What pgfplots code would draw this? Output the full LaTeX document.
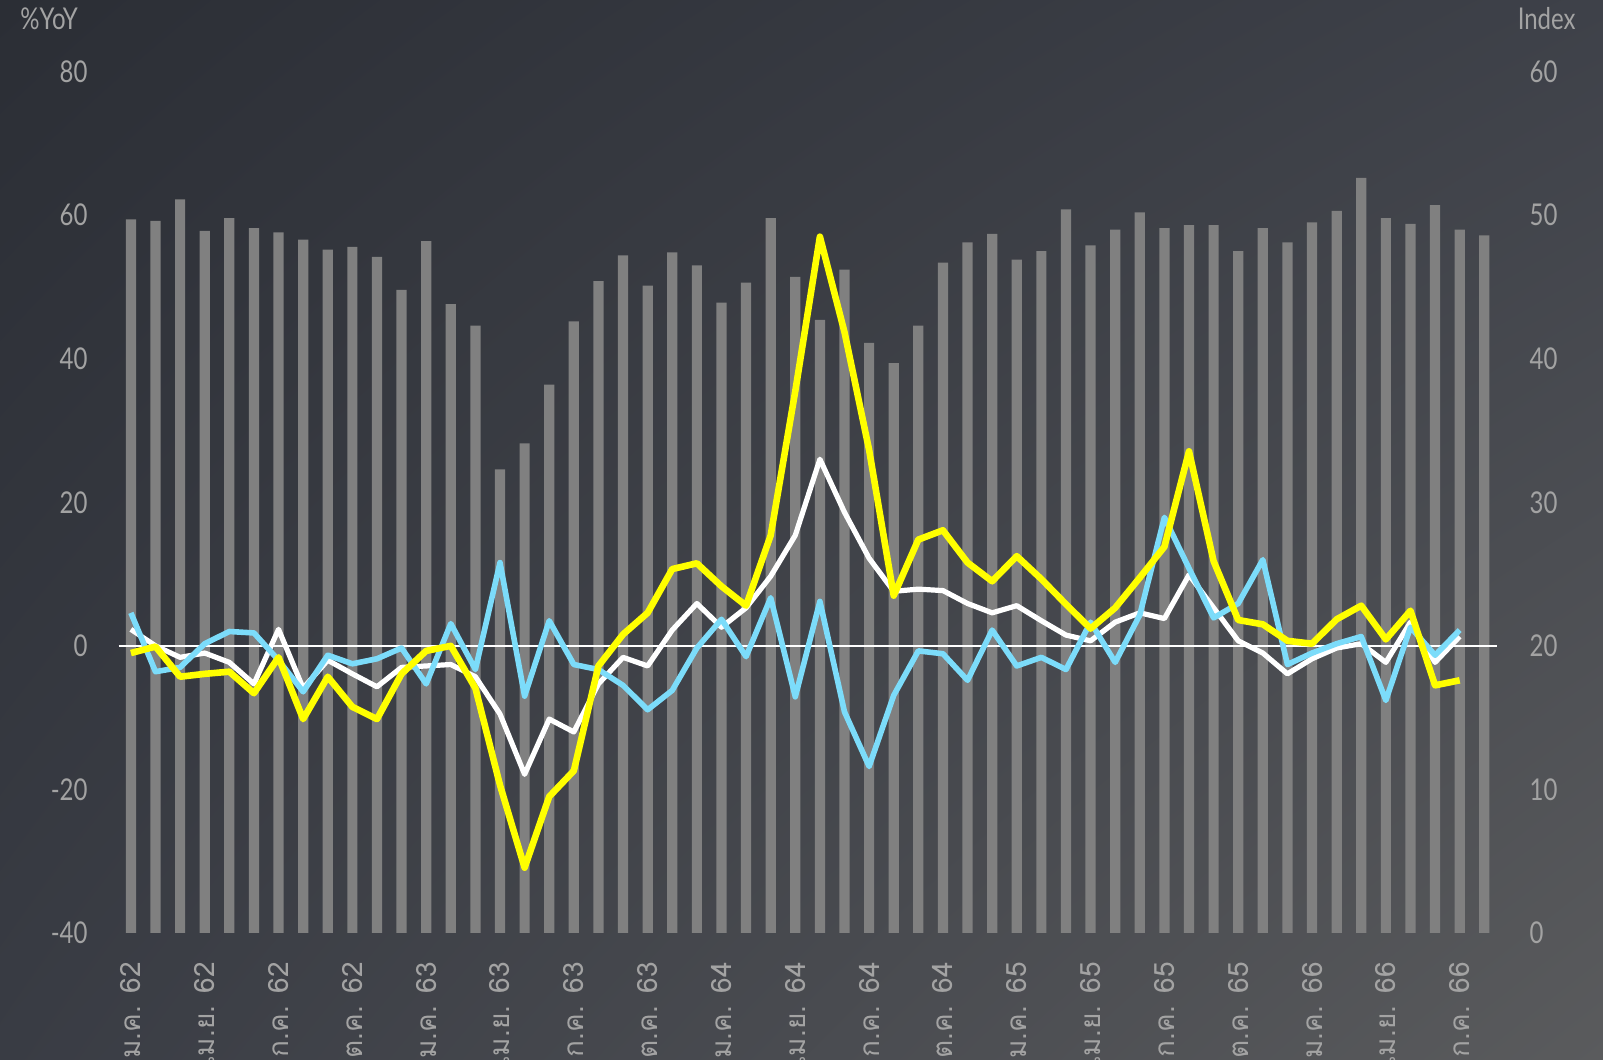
\documentclass[border=0pt]{standalone}
\usepackage{pgfplots}
\usepackage{pgfplotstable}
\pgfplotsset{compat=1.18}
\usetikzlibrary{shadings}
\usepackage{fontspec}
\setmainfont{Lato}[FakeStretch=0.8]
\newfontfamily\thaifont[Script=Thai]{Loma}
\definecolor{bgul}{HTML}{2B2E35}
\definecolor{bgur}{HTML}{3E4149}
\definecolor{bgll}{HTML}{393C44}
\definecolor{bglr}{HTML}{5A5B5D}
\definecolor{txt}{HTML}{A3A3A3}
\definecolor{barc}{HTML}{808080}
\definecolor{yel}{HTML}{FFFF00}
\definecolor{blu}{HTML}{7CDCFA}
\pgfplotstableread{
x idx wht yel blu
0 49.7 2.3 -1.0 4.6
1 49.6 0.0 -0.1 -3.6
2 51.1 -1.6 -4.3 -3.0
3 48.9 -1.0 -3.9 0.3
4 49.8 -2.3 -3.6 2.0
5 49.1 -5.3 -6.6 1.8
6 48.8 2.3 -1.6 -2.0
7 48.3 -5.9 -10.2 -6.4
8 47.6 -2.0 -4.3 -1.3
9 47.8 -3.9 -8.5 -2.5
10 47.1 -5.7 -10.2 -1.8
11 44.8 -3.0 -3.9 -0.3
12 48.2 -2.8 -0.7 -5.3
13 43.8 -2.6 0.0 3.1
14 42.3 -4.3 -5.9 -3.3
15 32.3 -9.5 -19.4 11.6
16 34.1 -17.9 -30.9 -7.0
17 38.2 -10.2 -21.0 3.5
18 42.6 -12.0 -17.4 -2.6
19 45.4 -5.3 -2.8 -3.3
20 47.2 -1.6 1.6 -5.5
21 45.1 -2.8 4.6 -8.9
22 47.4 2.2 10.7 -6.2
23 46.5 5.9 11.5 -0.3
24 43.9 2.6 8.3 3.7
25 45.3 5.3 5.6 -1.5
26 49.8 9.7 15.4 6.7
27 45.7 15.4 35.5 -7.1
28 42.7 26.0 57.0 6.2
29 46.2 18.6 43.7 -9.2
30 41.1 12.2 27.3 -16.8
31 39.7 7.6 7.0 -6.9
32 42.3 7.9 14.8 -0.7
33 46.7 7.7 16.1 -1.1
34 48.1 5.9 11.6 -4.8
35 48.7 4.6 9.0 2.2
36 46.9 5.6 12.5 -2.8
37 47.5 3.5 9.3 -1.6
38 50.4 1.5 5.8 -3.3
39 47.9 0.7 2.4 3.3
40 49.0 3.3 5.3 -2.3
41 50.2 4.6 9.5 4.3
42 49.1 3.8 13.8 17.9
43 49.3 9.9 27.1 10.8
44 49.3 5.3 11.8 3.9
45 47.5 0.7 3.6 5.9
46 49.1 -1.0 3.0 12.0
47 48.1 -3.9 0.7 -2.6
48 49.5 -1.8 0.3 -1.0
49 50.3 -0.3 3.7 0.3
50 52.6 0.3 5.6 1.3
51 49.8 -2.3 0.9 -7.6
52 49.4 3.3 4.9 2.6
53 50.7 -2.3 -5.5 -1.3
54 49.0 1.3 -4.8 2.2
55 48.6 nan nan nan
}\data
\begin{document}
\begin{tikzpicture}
\useasboundingbox (0,0) rectangle (801.5pt,530pt);
\shade[upper left=bgul, upper right=bgur, lower left=bgll, lower right=bglr] (0,0) rectangle (801.5pt,530pt);
\begin{scope}
\clip (0,0) rectangle (801.5pt,530pt);
\begin{axis}[
  at={(59.3pt,63.5pt)}, anchor=south west, scale only axis,
  width=689pt, height=430.7pt,
  xmin=-0.5, xmax=55.5, ymin=0, ymax=60,
  hide x axis,
  axis y line*=right, axis line style={draw=none},
  major tick length=0pt,
  ytick={0,10,...,60},
  yticklabel style={font=\fontsize{15pt}{18pt}\selectfont, text=txt, anchor=west},
  yticklabel shift=13pt,
  /pgf/number format/assume math mode=true,
]
\addplot[ybar, bar width=5.1pt, fill=barc, draw=none] table[x=x, y=idx] {\data};
\end{axis}
\begin{axis}[
  at={(59.3pt,63.5pt)}, anchor=south west, scale only axis,
  width=689pt, height=430.7pt,
  xmin=-0.5, xmax=55.5, ymin=-40, ymax=80,
  axis line style={draw=none},
  axis y line*=left, axis x line*=bottom,
  major tick length=0pt,
  ytick={-40,-20,...,80},
  yticklabel style={font=\fontsize{15pt}{18pt}\selectfont, text=txt, anchor=east},
  yticklabel shift=12pt,
  /pgf/number format/assume math mode=true,
  xtick={0,3,...,54},
  xticklabels={ม.ค. 62,เม.ย. 62,ก.ค. 62,ต.ค. 62,ม.ค. 63,เม.ย. 63,ก.ค. 63,ต.ค. 63,ม.ค. 64,เม.ย. 64,ก.ค. 64,ต.ค. 64,ม.ค. 65,เม.ย. 65,ก.ค. 65,ต.ค. 65,ม.ค. 66,เม.ย. 66,ก.ค. 66},
  xticklabel style={font=\thaifont\fontsize{14pt}{16pt}\selectfont, text=txt, rotate=90, anchor=east},
  xticklabel shift=11pt,
  extra y ticks={0}, extra y tick labels={},
  extra y tick style={grid=major, major grid style={white, line width=0.7pt}},
]
\addplot[white, line width=2.6pt, line join=round] table[x=x, y=wht] {\data};
\addplot[blu, line width=2.8pt, line join=round] table[x=x, y=blu] {\data};
\addplot[yel, line width=3.3pt, line join=round] table[x=x, y=yel] {\data};
\end{axis}
\end{scope}
\node[anchor=west, text=txt, font=\fontsize{15pt}{18pt}\selectfont, inner sep=0pt] at (10pt,520.8pt) {\%YoY};
\node[anchor=east, text=txt, font=\fontsize{15pt}{18pt}\selectfont, inner sep=0pt] at (788pt,520.8pt) {Index};
\end{tikzpicture}
\end{document}
